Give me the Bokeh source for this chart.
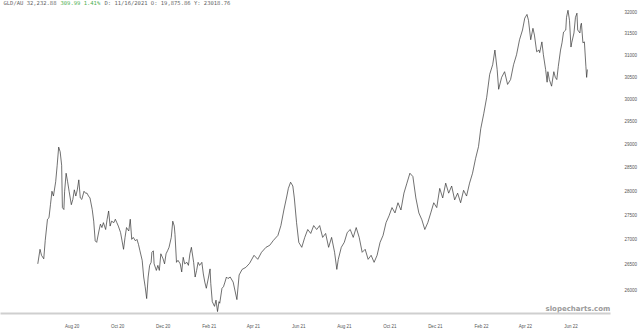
import pandas as pd
from bokeh.plotting import figure
from bokeh.models import (Range1d, FixedTicker, NumeralTickFormatter,
                          DatetimeTickFormatter, Label)
from bokeh.embed import file_html
from bokeh.resources import INLINE

# ---- data ----
start_date = "2020-08-01"
view_start = "2020-04-27"
view_end = "2022-07-24"

day_offsets = [
    -46, -43, -41, -38, -36, -33, -31, -29, -27, -25,
    -22, -20, -18, -16, -14, -13, -11, -10, -8, -6,
    -4, -1, 1, 3, 5, 7, 9, 11, 13, 16,
    18, 20, 22, 24, 27, 29, 31, 33, 36, 38,
    40, 42, 45, 47, 49, 51, 53, 56, 58, 60,
    62, 65, 67, 69, 71, 73, 76, 78, 80, 82,
    85, 87, 89, 91, 94, 96, 98, 100, 102, 104,
    106, 107, 109, 110, 113, 115, 117, 119, 122, 124,
    126, 128, 130, 133, 135, 137, 138, 140, 142, 145,
    147, 149, 151, 154, 156, 158, 160, 163, 165, 167,
    169, 171, 174, 176, 178, 180, 183, 185, 186, 188,
    191, 193, 195, 197, 198, 201, 203, 205, 207, 209,
    212, 216, 221, 224, 228, 233, 238, 244, 249, 254,
    260, 265, 270, 276, 280, 284, 288, 290, 293, 296,
    298, 301, 304, 308, 312, 316, 320, 324, 328, 332,
    336, 340, 344, 348, 352, 355, 357, 361, 365, 369,
    373, 377, 381, 385, 389, 393, 397, 401, 405, 409,
    413, 417, 421, 425, 429, 433, 437, 441, 445, 449,
    453, 457, 461, 465, 469, 473, 477, 481, 485, 489,
    493, 497, 501, 505, 509, 513, 517, 521, 525, 529,
    533, 537, 541, 545, 548, 552, 556, 560, 564, 567,
    570, 572, 576, 580, 584, 588, 592, 596, 600, 604,
    607, 610, 612, 615, 618, 620, 623, 626, 627, 630,
    632, 635, 637, 638, 640, 643, 646, 648, 650, 652,
    655, 657, 659, 662, 663, 665, 667, 669, 670, 673,
    675, 677, 678, 681, 682, 683, 685, 687, 689, 690, 691,
]

prices = [
    26510, 26800, 26680, 26610, 26980, 27410, 27440, 27710, 27990, 27890,
    28190, 28540, 28930, 28830, 28540, 27650, 27610, 27990, 28370, 28190,
    27990, 27710, 27820, 28020, 27890, 28020, 28230, 27850, 27820, 27990,
    27950, 27950, 27890, 27850, 27610, 27370, 26970, 26940, 27170, 27310,
    27240, 27340, 27200, 27410, 27580, 27270, 27370, 27340, 27410, 27340,
    27270, 27140, 26970, 26800, 27040, 27240, 27170, 27410, 27000, 27040,
    26970, 27000, 26900, 26770, 26580, 26250, 26060, 25830, 26250, 26480,
    26540, 26740, 26770, 26510, 26380, 26480, 26380, 26710, 26610, 26510,
    26710, 26770, 26840, 27040, 27370, 27270, 27100, 26540, 26580, 26510,
    26350, 26640, 26510, 26540, 26480, 26710, 26840, 26540, 26250, 26380,
    26540, 26480, 26540, 26310, 26150, 26030, 26250, 26410, 26120, 25770,
    25680, 25800, 25580, 25770, 25740, 26030, 26060, 26150, 26250, 26220,
    26250, 26150, 25810, 26290, 26400, 26440, 26520, 26680, 26600, 26740,
    26840, 26880, 26980, 27080, 27280, 27600, 27890, 28050, 28180, 28100,
    27850, 27340, 26940, 26840, 27040, 27200, 27120, 27280, 27200, 27280,
    27040, 27120, 26840, 27040, 26740, 26400, 26600, 26840, 26940, 27140,
    27200, 27040, 27240, 27040, 26740, 26800, 26600, 26680, 26540, 26680,
    26940, 27080, 27340, 27480, 27650, 27540, 27750, 27600, 27950, 28160,
    28370, 28300, 27850, 27540, 27400, 27200, 27340, 27540, 27750, 27650,
    28050, 27850, 28160, 27950, 28100, 27810, 27950, 27750, 28010, 27890,
    28160, 28370, 28680, 28940, 29330, 29660, 30030, 30550, 30770, 31110,
    30660, 30210, 30480, 30610, 30320, 30430, 30770, 31000, 31350, 31580,
    31860, 31950, 31810, 31350, 31620, 31460, 31070, 31110, 31050, 31300,
    31000, 30660, 30370, 30610, 30430, 30280, 30610, 30480, 30430, 30730,
    31110, 31280, 31530, 31580, 31880, 32050, 31810, 31180, 31280, 31510,
    31880, 31980, 31580, 31510, 31690, 31740, 31280, 31300, 30730, 30480, 30660,
]

x_tick_dates = ["2020-08-01", "2020-10-01", "2020-12-01", "2021-02-01",
                "2021-04-01", "2021-06-01", "2021-08-01", "2021-10-01",
                "2021-12-01", "2022-02-01", "2022-04-01", "2022-06-01"]
y_ticks = [26000, 26500, 27000, 27500, 28000, 28500, 29000,
           29500, 30000, 30500, 31000, 31500, 32000]
y_view = [25543, 32285]

title_parts = ["GLD/AU 32,232.88", "309.99 1.41%",
               "D: 11/16/2021 O: 19,875.86 Y:  23018.76"]
watermark = "slopecharts.com"

# ---- build ----
dates = pd.to_datetime(start_date) + pd.to_timedelta(day_offsets, unit="D")

p = figure(width=640, height=331, output_backend="svg", toolbar_location=None,
           x_axis_type="datetime", y_axis_type="log", y_axis_location="right",
           x_range=Range1d(pd.Timestamp(view_start), pd.Timestamp(view_end)),
           y_range=Range1d(y_view[0], y_view[1]),
           min_border_left=0, min_border_top=0, min_border_right=28,
           min_border_bottom=14)
p.outline_line_color = None
p.grid.visible = False
p.background_fill_color = "white"
p.border_fill_color = "white"

p.line(dates, prices, line_color="#333333", line_width=0.7)

xa = p.xaxis[0]
xa.ticker = FixedTicker(ticks=[pd.Timestamp(d).value // 10**6 for d in x_tick_dates])
fmt = "%b %y"
xa.formatter = DatetimeTickFormatter(days=fmt, months=fmt, years=fmt)
xa.axis_line_color = "#cfcfcf"
xa.axis_line_width = 2
xa.major_tick_line_color = None
xa.minor_tick_line_color = None
xa.major_label_text_font_size = "4.5px"
xa.major_label_text_color = "#555555"
xa.major_label_standoff = 4

ya = p.yaxis[0]
ya.ticker = FixedTicker(ticks=y_ticks)
ya.formatter = NumeralTickFormatter(format="0")
ya.axis_line_color = None
ya.major_tick_line_color = None
ya.minor_tick_line_color = None
ya.major_label_text_font_size = "4.5px"
ya.major_label_text_color = "#555555"
ya.major_label_standoff = 8

title_x = [3, 60, 104]
title_colors = ["#666666", "#4caf50", "#666666"]
for tx, txt, col in zip(title_x, title_parts, title_colors):
    p.add_layout(Label(x=tx, y=311, x_units="screen", y_units="screen",
                       text=txt, text_font="DejaVu Sans Mono",
                       text_font_size="5.5px", text_color=col,
                       text_baseline="middle"))

p.add_layout(Label(x=545, y=1, x_units="screen", y_units="screen",
                   text=watermark, text_font="DejaVu Sans",
                   text_font_style="bold", text_font_size="7px",
                   text_color="#9a9a9a", text_baseline="bottom"))

open("out.html", "w").write(file_html(p, INLINE))
